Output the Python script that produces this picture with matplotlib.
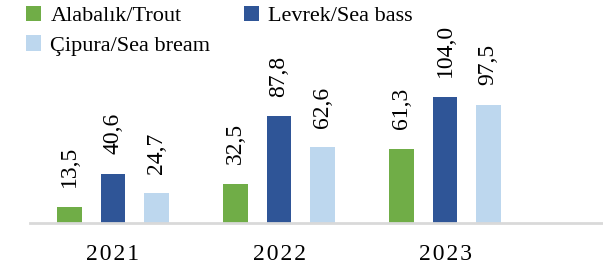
import numpy as np
import matplotlib.pyplot as plt

plt.rcParams['font.family'] = ['Liberation Serif', 'DejaVu Serif']

years = ['2021', '2022', '2023']
trout = [13.5, 32.5, 61.3]
seabass = [40.6, 87.8, 104.0]
seabream = [24.7, 62.6, 97.5]
names = ['Alabalık/Trout', 'Levrek/Sea bass', 'Çipura/Sea bream']
colors = ['#70AD47', '#2F5597', '#BDD7EE']

fig = plt.figure(figsize=(6.03, 2.69), dpi=100)
ax = fig.add_axes([0, 46 / 269, 1, 193 / 269])

x = np.arange(len(years))
w = 0.15
offs = [-0.26, 0, 0.26]
bars = []
for series, name, c, o in zip([trout, seabass, seabream], names, colors, offs):
    b = ax.bar(x + o, series, width=w, color=c, label=name)
    bars.append(b)
    for xi, v in zip(x + o, series):
        ax.annotate(f'{v:.1f}'.replace('.', ','), (xi, v), xytext=(0, 14),
                    textcoords='offset points', rotation=90, ha='center',
                    va='bottom', fontsize=17)

ax.set_xlim(-113 / 166, 490 / 166)
ax.set_ylim(0, 159)
ax.set_xticks(x)
ax.set_xticklabels(['\u200a'.join(y) for y in years], fontsize=17)
ax.tick_params(axis='x', length=0, pad=15)
ax.set_yticks([])
for s in ['top', 'right', 'left']:
    ax.spines[s].set_visible(False)
ax.spines['bottom'].set_color('#D9D9D9')
ax.spines['bottom'].set_linewidth(2)
ax.spines['bottom'].set_bounds(-83 / 166, 490 / 166)

# column-major order so the rows read Trout, Sea bass / Sea bream
fig.legend([bars[0], bars[2], bars[1]], [names[0], names[2], names[1]],
           ncol=2, loc='upper left', bbox_to_anchor=(17 / 603, 1.012),
           frameon=False, fontsize=16, handlelength=0.7, handleheight=0.7,
           handletextpad=0.4, columnspacing=1.5, labelspacing=0.4,
           borderaxespad=0)

fig.savefig('out.png', dpi=100)
